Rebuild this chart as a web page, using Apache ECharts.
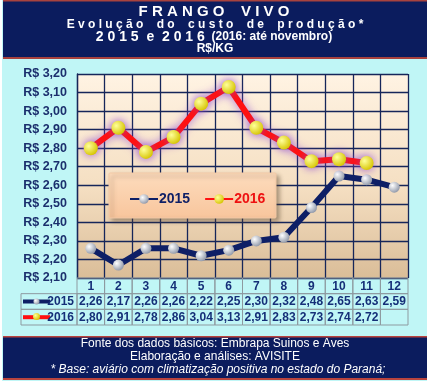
<!DOCTYPE html>
<html>
<head>
<meta charset="utf-8">
<script src="https://cdn.jsdelivr.net/npm/echarts@6/dist/echarts.min.js"></script>
<style>
html,body{margin:0;padding:0;background:#fff;}
#c{width:430px;height:381px;}
</style>
</head>
<body>
<div id="c"></div>
<script>
const categories = ['1','2','3','4','5','6','7','8','9','10','11','12'];
const cost2015 = [2.26, 2.17, 2.26, 2.26, 2.22, 2.25, 2.30, 2.32, 2.48, 2.65, 2.63, 2.59];
const cost2016 = [2.80, 2.91, 2.78, 2.86, 3.04, 3.13, 2.91, 2.83, 2.73, 2.74, 2.72];
const seriesNames = ['2015', '2016'];
const yMin = 2.1, yMax = 3.2, yStep = 0.1;

const FONT = '"Liberation Sans", Arial, sans-serif';
const NAVY = '#0b1c5e';
const TXT = '#152f78';
const fmt = v => v.toFixed(2).replace('.', ',');
const spaced = (s, gap) => s.split(' ').map(w => w.split('').join(' ')).join(gap);

// table cells data: [col, row]
const tableData = [];
const tableText = [];
categories.forEach((c, i) => { tableData.push([i, 0]); tableText.push(c); });
cost2015.forEach((v, i) => { tableData.push([i, 1]); tableText.push(fmt(v)); });
categories.forEach((c, i) => {
  tableData.push([i, 2]);
  tableText.push(i < cost2016.length ? fmt(cost2016[i]) : '');
});

const ball = (c0, c1) => ({
  type: 'radial', x: 0.35, y: 0.35, r: 0.7,
  colorStops: [{offset: 0, color: c0}, {offset: 1, color: c1}]
});

const chart = echarts.init(document.getElementById('c'), null, {renderer: 'canvas'});
const gridL = 77, gridR = 408, gridT = 74, gridB = 278;

const option = {
  animation: false,
  backgroundColor: '#c0f6f6',
  textStyle: {fontFamily: FONT},
  grid: [
    {left: gridL, top: gridT, width: gridR - gridL, height: gridB - gridT, show: true,
      borderWidth: 0,
      backgroundColor: {type: 'linear', x: 0, y: 0, x2: 0, y2: 1,
        colorStops: [{offset: 0, color: '#fff3e3'}, {offset: 0.55, color: '#f5dfc2'}, {offset: 1, color: '#dabd98'}]}},
    {left: gridL, top: 278, width: gridR - gridL, height: 47}
  ],
  xAxis: [
    {type: 'category', data: categories, gridIndex: 0, boundaryGap: true,
      axisLine: {show: false}, axisTick: {show: false}, axisLabel: {show: false},
      splitLine: {show: true, interval: 0, lineStyle: {color: '#16265a', width: 1.3}}},
    {type: 'category', data: categories, gridIndex: 1, boundaryGap: true, show: false}
  ],
  yAxis: [
    {type: 'value', gridIndex: 0, min: yMin, max: yMax, interval: yStep,
      axisLine: {show: true, lineStyle: {color: '#16265a', width: 1.3}},
      axisTick: {show: false},
      axisLabel: {margin: 10, formatter: v => 'R$ ' + fmt(v), color: '#1b2f6d',
        fontWeight: 'bold', fontSize: 12.5, fontFamily: FONT},
      splitLine: {show: true, lineStyle: {color: '#16265a', width: 1.3}}},
    {type: 'category', data: ['h', 'a', 'b'], gridIndex: 1, inverse: true, show: false}
  ],
  legend: {
    left: 124, top: 187, itemWidth: 28, itemHeight: 12, itemGap: 14, z: 6,
    data: [
      {name: '2015', textStyle: {color: '#0e1f66'}},
      {name: '2016', textStyle: {color: '#ee1111'}}
    ],
    textStyle: {fontWeight: 'bold', fontSize: 14, fontFamily: FONT, padding: [0, 0, 0, -4]}
  },
  series: [
    {name: seriesNames[0], type: 'line', data: cost2015, xAxisIndex: 0, yAxisIndex: 0,
      symbol: 'circle', symbolSize: 11, z: 3,
      lineStyle: {color: '#0e1f66', width: 6},
      itemStyle: {color: ball('#ffffff', '#8f97a8'), borderWidth: 0}},
    {name: seriesNames[1], type: 'line', data: cost2016, xAxisIndex: 0, yAxisIndex: 0,
      symbol: 'circle', symbolSize: 14, z: 3,
      lineStyle: {color: '#ff1010', width: 6, shadowColor: 'rgba(140,70,210,0.75)', shadowBlur: 10},
      itemStyle: {color: ball('#ffff9a', '#d6c400'), borderWidth: 0,
        shadowColor: 'rgba(140,70,210,0.85)', shadowBlur: 10}},
    {name: 'table', type: 'custom', xAxisIndex: 1, yAxisIndex: 1, data: tableData, z: 2,
      renderItem: (params, api) => {
        const p = api.coord([api.value(0), api.value(1)]);
        const s = api.size([1, 1]);
        return {type: 'group', children: [
          {type: 'rect', shape: {x: p[0] - s[0] / 2, y: p[1] - s[1] / 2, width: s[0], height: s[1]},
            style: {fill: 'rgba(0,0,0,0)', stroke: '#8e9aa0', lineWidth: 1}},
          {type: 'text', style: {text: tableText[params.dataIndex], x: p[0], y: p[1] + 0.5,
            align: 'center', verticalAlign: 'middle', fill: TXT,
            font: 'bold 12px ' + FONT}}
        ]};
      }}
  ],
  graphic: {elements: [
    // white side strips
    {type: 'rect', shape: {x: 0, y: 0, width: 2, height: 381}, style: {fill: '#ffffff'}, z: 1},
    {type: 'rect', shape: {x: 427, y: 0, width: 3, height: 381}, style: {fill: '#ffffff'}, z: 1},
    // title box
    {type: 'rect', shape: {x: 3, y: 0, width: 424, height: 59}, style: {fill: '#a8423e'}, z: 1},
    {type: 'rect', shape: {x: 3, y: 1.5, width: 424, height: 55.5}, style: {fill: NAVY}, z: 1},
    {type: 'text', x: 214, y: 11.5, z: 2, style: {text: spaced('FRANGO VIVO', '    '), align: 'center', verticalAlign: 'middle',
      fill: '#ffffff', font: 'bold 15px ' + FONT}},
    {type: 'text', x: 215, y: 24.5, z: 2, style: {text: spaced('Evolução do custo de produção*', '    '), align: 'center', verticalAlign: 'middle',
      fill: '#ffffff', font: 'bold 12px ' + FONT}},
    {type: 'text', x: 214, y: 37, z: 2, style: {
      text: '{a|' + spaced('2015 e 2016', '  ') + '}  {b|(2016: até novembro)}',
      align: 'center', verticalAlign: 'middle',
      rich: {a: {fill: '#ffffff', font: 'bold 14px ' + FONT}, b: {fill: '#ffffff', font: 'bold 12px ' + FONT}}}},
    {type: 'text', x: 215, y: 49, z: 2, style: {text: 'R$/KG', align: 'center', verticalAlign: 'middle',
      fill: '#ffffff', font: 'bold 12px ' + FONT}},
    // footer box
    {type: 'rect', shape: {x: 3, y: 336, width: 424, height: 44}, style: {fill: '#b8443e'}, z: 1},
    {type: 'rect', shape: {x: 3, y: 337.5, width: 424, height: 40.5}, style: {fill: NAVY}, z: 1},
    {type: 'text', x: 215, y: 344, z: 2, style: {text: 'Fonte dos dados básicos: Embrapa Suinos e Aves', align: 'center', verticalAlign: 'middle',
      fill: '#ffffff', font: '12px ' + FONT}},
    {type: 'text', x: 215, y: 357, z: 2, style: {text: 'Elaboração e análises: AVISITE', align: 'center', verticalAlign: 'middle',
      fill: '#ffffff', font: '12px ' + FONT}},
    {type: 'text', x: 218, y: 370, z: 2, style: {text: '* Base: aviário com climatização positiva no estado do Paraná;', align: 'center', verticalAlign: 'middle',
      fill: '#ffffff', font: 'italic 12px ' + FONT}},
    // legend box
    {type: 'rect', shape: {x: 109, y: 173, width: 167, height: 45, r: 1}, z: 5,
      style: {fill: {type: 'linear', x: 0, y: 0, x2: 0, y2: 1,
        colorStops: [{offset: 0, color: '#fddcbd'}, {offset: 1, color: '#f8c59c'}]},
        stroke: '#f2c9a6', lineWidth: 1,
        shadowBlur: 4, shadowOffsetX: 3, shadowOffsetY: 3, shadowColor: 'rgba(80,60,40,0.45)'}},
    // table row label cells
    {type: 'rect', shape: {x: 21, y: 293.67, width: 56, height: 15.67}, style: {fill: 'rgba(0,0,0,0)', stroke: '#8e9aa0', lineWidth: 1}, z: 2},
    {type: 'rect', shape: {x: 21, y: 309.33, width: 56, height: 15.67}, style: {fill: 'rgba(0,0,0,0)', stroke: '#8e9aa0', lineWidth: 1}, z: 2},
    {type: 'line', shape: {x1: 23, y1: 301.5, x2: 50, y2: 301.5}, style: {stroke: '#0e1f66', lineWidth: 4}, z: 3},
    {type: 'circle', shape: {cx: 36.5, cy: 301.5, r: 3}, style: {fill: ball('#ffffff', '#8f97a8')}, z: 3},
    {type: 'line', shape: {x1: 23, y1: 317.2, x2: 50, y2: 317.2}, style: {stroke: '#ff1010', lineWidth: 4}, z: 3},
    {type: 'circle', shape: {cx: 36.5, cy: 316.5, r: 3.5}, style: {fill: ball('#ffff9a', '#d6c400')}, z: 3},
    {type: 'text', x: 74, y: 302, z: 3, style: {text: seriesNames[0], align: 'right', verticalAlign: 'middle', fill: TXT, font: 'bold 12px ' + FONT}},
    {type: 'text', x: 74, y: 317.5, z: 3, style: {text: seriesNames[1], align: 'right', verticalAlign: 'middle', fill: TXT, font: 'bold 12px ' + FONT}}
  ]}
};
chart.setOption(option);
</script>
</body>
</html>
